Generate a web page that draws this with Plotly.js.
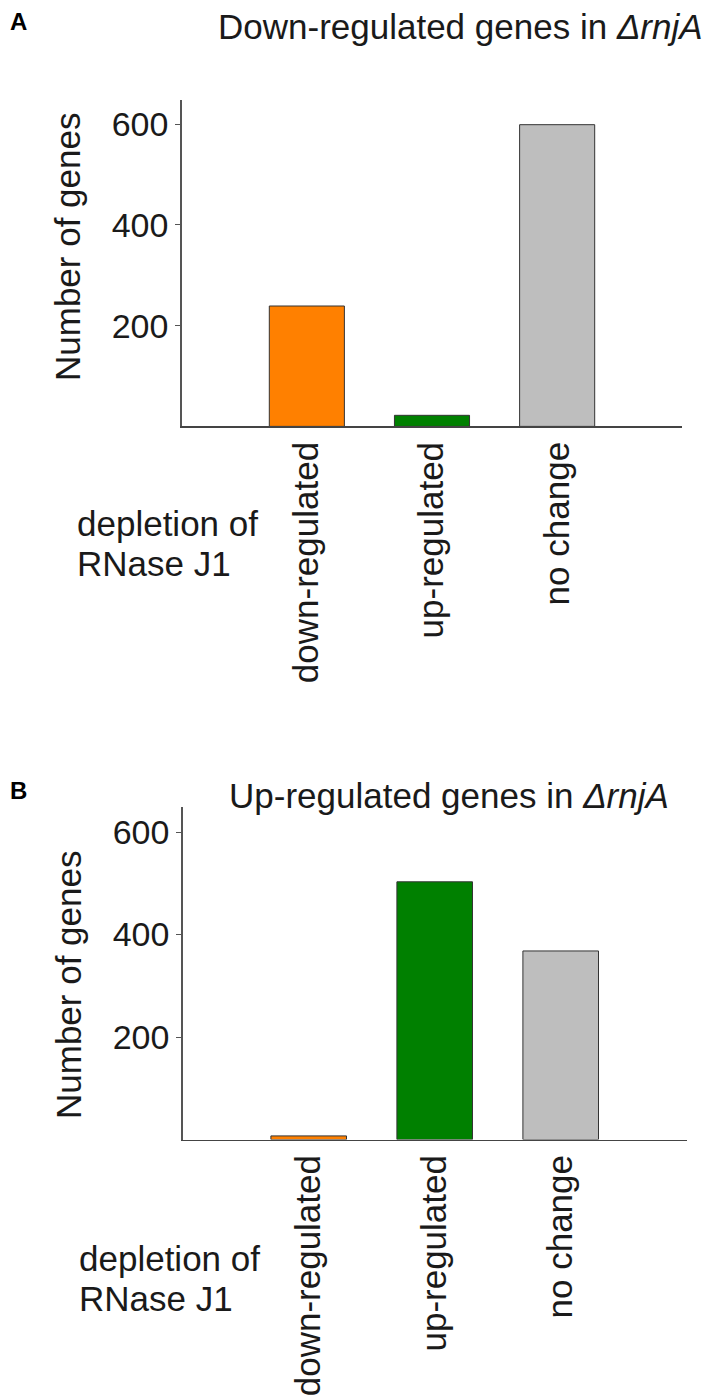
<!DOCTYPE html>
<html>
<head>
<meta charset="utf-8">
<script src="https://cdn.plot.ly/plotly-3.0.1.min.js"></script>
<style>
  body { margin: 0; background: #fff; }
  #chart { width: 709px; height: 1400px; }
</style>
</head>
<body>
<div id="chart"></div>
<script>
// categories on the x axis (depletion of RNase J1)
const categories = ['down-regulated', 'up-regulated', 'no change'];

// panel A: genes down-regulated in the rnjA deletion
const downInRnjA = [239, 22, 599];
// panel B: genes up-regulated in the rnjA deletion
const upInRnjA = [7, 503, 368];

const yTicks = [200, 400, 600];

const barColors = ['#FF8000', '#008000', '#BEBEBE'];
const FONT = 'Liberation Sans, Arial, Helvetica, sans-serif';
const W = 709, H = 1400;

// helpers to convert pixel positions to paper coords
const px = v => v / W;
const py = v => 1 - v / H;

function barTrace(values, xa, ya) {
    return {
        x: categories,
        y: values,
        type: 'bar',
        width: 0.6,
        xaxis: xa,
        yaxis: ya,
        marker: { color: barColors, line: { color: '#333', width: 1 } },
        hoverinfo: 'x+y',
        showlegend: false
    };
}

const traces = [
    barTrace(downInRnjA, 'x', 'y'),
    barTrace(upInRnjA, 'x2', 'y2')
];

const xaxisBase = {
    type: 'category',
    range: [-1, 3],
    showline: true,
    linecolor: '#444',
    linewidth: 1.5,
    showgrid: false,
    zeroline: false,
    ticks: '',
    tickangle: -90,
    tickfont: { family: FONT, size: 35, color: '#1a1a1a' },
    fixedrange: true
};

const yaxisBase = {
    showline: true,
    linecolor: '#555',
    linewidth: 1.5,
    showgrid: false,
    zeroline: false,
    ticks: 'outside',
    ticklen: 5,
    tickcolor: '#555',
    tickvals: yTicks,
    tickfont: { family: FONT, size: 34, color: '#1a1a1a' },
    fixedrange: true
};

function ann(text, x, y, opts) {
    return Object.assign({
        text: text,
        xref: 'paper', yref: 'paper',
        x: px(x), y: py(y),
        xanchor: 'left', yanchor: 'middle',
        showarrow: false,
        font: { family: FONT, size: 35, color: '#1a1a1a' }
    }, opts || {});
}

const annotations = [
    // panel letters
    ann('<b>A</b>', 8, 21, { font: { family: FONT, size: 24, color: '#000' } }),
    ann('<b>B</b>', 8, 791, { font: { family: FONT, size: 24, color: '#000' } }),
    // panel titles
    ann('Down-regulated genes in <i>ΔrnjA</i>', 216, 26),
    ann('Up-regulated genes in <i>ΔrnjA</i>', 227, 795),
    // y axis titles
    ann('Number of genes', 67.5, 247.5, { textangle: -90, xanchor: 'center' }),
    ann('Number of genes', 68, 985, { textangle: -90, xanchor: 'center' }),
    // x axis group label
    ann('depletion of', 75, 523),
    ann('RNase J1', 75, 563),
    ann('depletion of', 77, 1258),
    ann('RNase J1', 77, 1298)
];

const layout = {
    width: W,
    height: H,
    margin: { l: 0, r: 0, t: 0, b: 0 },
    paper_bgcolor: '#fff',
    plot_bgcolor: '#fff',
    bargap: 0.4,
    xaxis: Object.assign({}, xaxisBase, { domain: [px(181.7), px(682.3)], anchor: 'y' }),
    yaxis: Object.assign({}, yaxisBase, { domain: [py(426.4), py(100)], range: [0, 648], anchor: 'x' }),
    xaxis2: Object.assign({}, xaxisBase, { domain: [px(182.7), px(686.7)], anchor: 'y2' }),
    yaxis2: Object.assign({}, yaxisBase, { domain: [py(1139.5), py(807)], range: [0, 649], anchor: 'x2' }),
    annotations: annotations
};

Plotly.newPlot('chart', traces, layout, { displayModeBar: false, staticPlot: true });
</script>
</body>
</html>
